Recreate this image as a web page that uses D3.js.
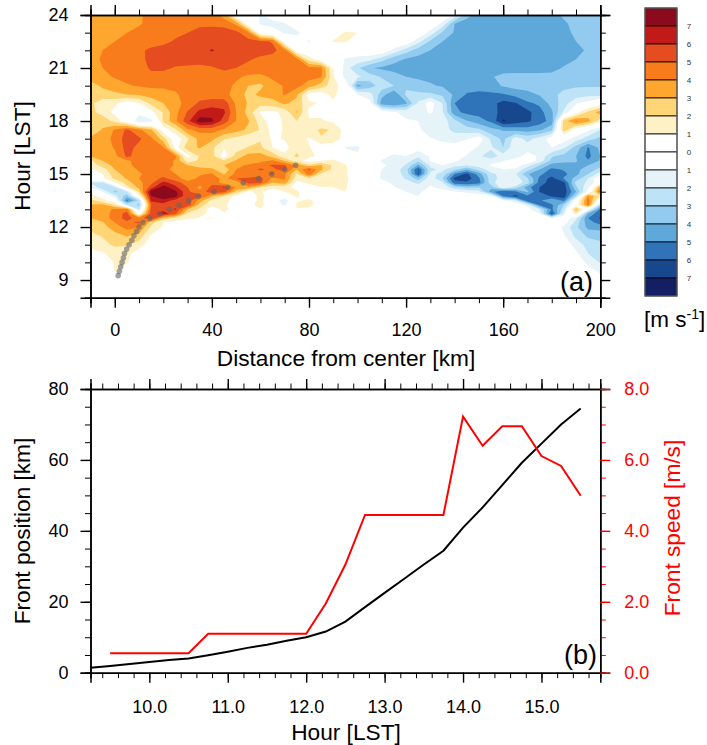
<!DOCTYPE html>
<html>
<head>
<meta charset="utf-8">
<script src="https://cdn.jsdelivr.net/npm/d3@7"></script>
<style>
html, body { margin: 0; padding: 0; background: #fff; }
svg { display: block; }
text { font-family: "Liberation Sans", Arial, sans-serif; fill: #000; }
</style>
</head>
<body>
<svg id="fig" width="707" height="745"></svg>
<script>
// grid of panel (a): wind anomaly at each hour (rows, top to bottom) and distance (columns)
const gridKm = [-10,-5,0,5,10,15,20,25,30,35,40,45,50,55,60,65,70,75,80,85,90,95,
  100,105,110,115,120,125,130,135,140,145,150,155,160,165,170,175,180,185,190,195,200];
const gridHours = [24,23.5,23,22.5,22,21.5,21,20.5,20,19.5,19,18.5,18,17.5,17,16.5,16,15.75,15.5,15.25,15,
  14.75,14.5,14.25,14,13.75,13.5,13.25,13,12.75,12.5,12.25,12,11.5,11,10.5,10,9.5,9,8];

// -10 to 95 km, zeros after the last value are left out
const nearRows = [
  [3.5,3.5,3.6,3.7,3.8,4.4,4.6,4.7,4.7,4.7,4.6,3.5,.3,0,-1.1,-.5],
  [3.5,3.5,3.6,3.7,3.9,4.3,4.5,4.6,4.7,4.8,4.8,4.7,3.8,.2,-1.1,-1.3,-1.1,-.3],
  [3.5,3.6,3.7,4.0,4.3,4.5,4.6,4.8,5.0,5.3,5.4,5.4,5.3,4.3,.2,-.5,-1.1,-1.2,-.5,0,.3,1.1],
  [3.5,3.8,4.0,4.3,4.5,4.6,4.8,5.1,5.3,5.4,5.4,5.4,5.4,5.3,5.3,4.9,.2,-.5,-1.1,-.2,1.1,1.1],
  [3.6,4.0,4.3,4.5,4.8,5.2,5.3,5.4,5.5,5.6,6.1,5.6,5.5,5.4,5.4,5.3,4.4,.3,0,0,0,-.2],
  [3.7,4.1,4.4,4.5,4.9,5.1,5.4,5.5,5.5,5.5,5.5,5.4,5.3,5.1,4.8,4.6,4.5,4.3,1.5,.3,0,-1.1],
  [3.7,4.0,4.3,4.5,4.7,5.1,5.2,4.9,4.8,4.7,4.9,5.2,5,4.7,4.6,4.6,4.5,4.5,4.3,4.2,.9,-1.5],
  [3.5,3.7,4.1,4.3,4.5,4.8,4.6,4.5,4.5,4.5,4.5,4.5,4.2,3.8,3.7,4.2,4.5,4.5,4.3,4.1,1.2,-1.5],
  [2.5,3.2,3.5,3.9,4.1,4.2,4.2,4.2,4.5,4.5,4.5,4.4,3.8,3.0,2.8,3.6,4.1,4.3,3.5,2.5,1.5,.3],
  [2.3,2.5,2.8,3.0,3.1,3.4,3.6,3.9,4.3,4.5,4.5,4.3,3.6,2.7,3.2,3.4,4.1,3.2,.5,.5,1.3,.2],
  [2.2,1.5,1.2,.4,.9,2.3,3.0,3.7,4.3,5.2,5.5,5.6,3.8,2.9,2.4,2.6,3.2,2.6,1.2,.9,.8,.3],
  [2.3,1.6,.7,-.3,-.5,.6,2.1,3.7,5.1,6.3,6.6,6.2,4,2.6,.9,.7,1.3,3.1,.8,.8,.4,0],
  [2.5,2.6,1.7,.3,-1.9,-1.5,2.2,3.8,5.7,7.5,7.2,5.5,4,3.1,1.5,.4,1.2,2,1.1,1.1,.8,.2],
  [2.2,3.1,4.1,5.2,4.2,3.2,.3,1.8,3.8,4.3,4.4,3.9,3.4,2.8,1.9,.6,1.1,1.6,1.5,2.2,1.9,.5],
  [3.2,3.5,4.3,5.5,5.2,4.2,2.5,.2,1.8,3.4,3.3,2.1,1.7,1.2,1.9,.8,1.1,1.4,.9,1.9,1.8,.4],
  [3.2,3.4,4.1,5.4,4.7,4.7,4.1,.5,2.6,3.1,2.2,1.1,1.4,2.1,2.2,1,.6,1.7,1.1,.3,.1,-1.1],
  [3,3.4,3.7,5.2,4.6,4.8,4.6,4.2,.6,2.1,2.4,.4,2.5,3.4,3.5,2.7,1.3,2.2,1.2,.8,.5,-.3],
  [1.8,3,3.4,3.8,4.4,4.6,4.5,3.9,1.4,2.2,2.2,2.2,3.1,3.0,3.6,4.2,2.9,1.4,.6,1,1.2,.4],
  [1.4,2.4,3.3,3.8,4.3,4.5,4.4,3.9,3,2.6,2.6,3,3.6,4.2,4.8,5.1,5.1,3.8,2.2,3.1,1.8,1.1],
  [.8,1.5,3,3.6,4.1,4.3,4.2,3.8,3.3,3.4,3.2,2.3,4,4.7,5.1,4.8,5.4,3,5.2,3.2,1.7,1.2],
  [.6,1,2.6,3.4,3.9,4.3,4.3,4.0,3.4,3.9,4.1,2.9,4.3,4.5,4.6,5.2,4.1,1.9,4.6,1.8,1.4,1.2],
  [.3,.7,2.3,3.1,4.0,4.4,5.3,4.4,3.6,4.2,4.6,3.6,5.0,5.1,5.3,3.8,4.2,1.4,2,1.8,1.2,1.3],
  [-2,-2.2,.8,2.5,3.7,4.7,6.3,5.6,4.3,4.4,4.7,3.5,3.3,5.2,5.3,3,3.5,.6,1.2,1.6,1.6,1.2],
  [-1,-2.8,-2.2,1.7,3.3,5.5,7.5,6.2,5,3.7,5.3,6.1,3.9,3.6,2,1.5,1.2,.8,.6,.9,1,1.1],
  [.5,-1,-3.3,-2.2,2.4,7.5,8,7.3,5.2,4.3,5.7,5.4,2.6,.8,1.3,-.3,1,1.1,.4,.4,.6,1],
  [1.5,.5,-1.6,-3.6,.5,7,8,7.4,5.1,5.4,3.2,2,.7,-.2,1.5,-.2,-.2,1.2,.3,0,.1,.3],
  [2.3,1.4,.3,-5.3,-2.8,6.3,6.6,5.6,5.6,3.5,1.7,1.4,.4,.1,1.4,-.2,-1.7,.8,1.3,.3],
  [3.1,3.3,2,-2.2,-3.2,5,5.6,5.8,5.8,2.5,1.2,1.4,-.1,.5,1.5,-.3,-1.2,1.2,1.4,.2],
  [3.5,3.5,4.2,4.6,-2.2,5.3,5.6,6.1,3,1.8,.5,1.3,.4,.3,.9,0,.1,.9,.6],
  [3.4,3.6,4.3,5.4,.5,5.6,6.6,5.2,1.8,1.4,.6,.9,.1,.1,0,0,0,-1.1],
  [3,3.5,4.4,5.4,4.4,6.1,2.6,1.7,1.2,.9,1.1,.2],
  [2.4,2.9,4,4.8,5.2,2.4,1,.6,.1],
  [2.3,2.6,3.5,4.4,4.1,1.8,.9,.4],
  [1.7,2.1,2.6,3.1,2.6,.9],
  [1.5,1.6,2.2,2.1,1.5,.3],
  [.3,.9,1.3,1.3,.4],
  [0,.2,1.1,1.1,.2],
  [0,0,1.05,.3],
  [],
  []
];

// 100 to 200 km, zeros before the first value are left out
const farRows = [
  [-1.2,-3.7,-4.4,-4.5,-4.5,-4.5,-4.5,-4.5,-4.2,-3.9,-3.6,-3.6,-3.6],
  [-1.3,-4.0,-4.4,-4.5,-4.5,-4.5,-4.5,-4.5,-4.5,-4.4,-4.1,-3.8,-3.6,-3.6],
  [1.0,0,0,0,0,0,-1.4,-3.2,-4.1,-4.5,-4.5,-4.5,-4.5,-4.5,-4.5,-4.5,-4.5,-4.3,-3.8,-3.6,-3.5],
  [.5,0,0,0,-.2,-1.6,-3.2,-4.0,-4.4,-4.5,-4.5,-4.5,-4.5,-4.5,-4.5,-4.5,-4.5,-4.5,-4.0,-3.6,-3.5],
  [-.3,0,0,-1.3,-2.5,-3.5,-4,-4.3,-4.5,-4.5,-4.5,-4.5,-4.5,-4.5,-4.5,-4.5,-4.5,-4.5,-4.4,-3.8,-3.5],
  [-1.3,-1.6,-2.6,-3.6,-4.1,-4.3,-4.5,-4.5,-4.5,-4.5,-4.5,-4.5,-4.5,-4.5,-4.5,-4.5,-4.5,-4.4,-4,-3.7,-3.5],
  [-2.8,-3.9,-4.2,-4.4,-4.5,-4.5,-4.5,-4.5,-4.5,-4.5,-4.5,-4.5,-4.5,-4.5,-4.5,-4.5,-4.4,-3.9,-3.6,-3.6,-3.5],
  [-1.8,-2.5,-3.1,-3.5,-4,-4.2,-4.2,-4.3,-4.3,-4.3,-4.3,-4.1,-3.7,-3.6,-3.6,-3.6,-3.6,-3.6,-3.6,-3.6,-3.6],
  [-4.3,-3.5,-2.5,-3,-3.2,-3.5,-3.9,-4.1,-4.3,-4.5,-4.5,-4.4,-3.9,-3.6,-3.6,-3.6,-3.5,-3.2,-3.1,-3.1,-3.1],
  [-1,-1.5,-3.6,-4.8,-2.8,-2.8,-2.8,-3.2,-4.2,-5.1,-5.3,-5.2,-5.1,-4.7,-4.3,-3.9,-3.2,-2.8,-2.6,-2.4,-2.4],
  [0,-.6,-4.6,-5,-4.2,-1.8,-.5,-2,-5,-5.6,-5.4,-5.6,-6.4,-6.1,-5.2,-4.8,-3.6,-2.5,-1.1,-.5,.5],
  [0,0,-.3,-.9,-1.3,-1.6,-.8,-1.9,-4.7,-5.3,-5.4,-5.3,-6.6,-6.6,-6.3,-5.4,-4.2,-1.8,.5,2.2,3.5],
  [0,0,0,-.5,-.9,-1,-2,-1.5,-2.7,-3.9,-4.6,-5.2,-7.1,-6.6,-6.2,-5.5,-4.6,2.5,4.2,3.4,1.5],
  [0,0,-.3,-.5,-.7,-.8,-1.6,-1.7,-2.2,-2.5,-2.8,-3.7,-4.1,-4.3,-4.5,-4.2,-3.3,2.7,.3,-.8,-2],
  [0,0,0,-.3,-.4,-.6,-.9,-1.3,-1.6,-1.1,-.3,-2.2,-3.3,-1.5,-2.3,-1.6,-.4,-.5,-1.5,-2.5,-3.3],
  [-1.2,-.1,0,-.1,-.4,-.5,-1,-.5,-.4,-.3,-1.2,-1.8,-3,-1.2,-1.6,-1.1,-1,-1.8,-3.4,-5.1,-3.7],
  [-.8,-.2,-.5,-1.3,-1,-1.8,-.9,-.2,0,-1.2,-1.8,-2.6,-1.5,-1.6,-.4,-1.2,-2.9,-3.4,-4,-5.3,-4],
  [-.5,0,-1.1,-1.4,-1.6,-2.6,-.9,-.6,-.8,-1.5,-1.3,-1.4,-1.1,-.2,-.1,-1.4,-3.3,-3.6,-3.9,-4.9,-3.9],
  [-.1,-.2,-.8,-1.3,-2.1,-4.2,-1.8,-1,-1.7,-1.8,-1.6,-.9,-.3,-.4,-1.6,-3,-4.4,-4.6,-4.2,-4,-3.3],
  [.1,-.4,-1,-1.4,-2.6,-6.1,-2.2,-1.8,-2.8,-4,-2.6,-1.5,-1,-1.2,-2.6,-4,-5.3,-4.9,-4.3,-3.5,-2.7],
  [-.2,-.3,-1.1,-1.7,-2.2,-6.1,-1.8,-2.2,-5,-6.3,-4.5,-2.2,-1.7,-1.8,-3.9,-4.8,-5.5,-5.3,-4.3,-3,-1.4],
  [0,-.3,-1.1,-1.5,-2.1,-3.5,-1.3,-3,-6.3,-6.5,-5.2,-2.4,-1.6,-1.4,-2.9,-5.2,-6.4,-4.9,-3.6,-2,.2],
  [0,-.2,-.6,-1.2,-1.6,-2.2,-1.1,-1.8,-5.6,-5.8,-5.4,-2.4,-1.2,-1.1,-2.6,-5.5,-6.5,-6.3,-2.6,-1.8,-.1],
  [.3,-.2,-.4,-.9,-1.5,-1.5,-.9,-1.3,-2.6,-3.2,-3.1,-3.6,-1.2,-2.4,-4.6,-6,-6.6,-6.6,-3.2,-1.2,3.6],
  [.1,-.3,-.2,-.5,-1,-1.2,-.5,-.6,-.9,-1.3,-1.6,-4.6,-6,-5.2,-3.8,-6.1,-6.7,-6.6,-4,-.5,4.8],
  [0,0,-.2,-.4,-.9,-1,-.4,-.2,-.3,0,-.3,-.6,-5.2,-6.3,-5.2,-5,-6.2,-6.5,-2.8,4,1.8],
  [0,0,0,-.2,-.8,-.7,-.2,0,0,0,0,-.1,-.8,-1.8,-6,-5.2,-4,-5.3,-.1,4.6,-.3],
  [0,0,0,-.1,-.3,-.3,0,0,0,0,0,0,0,-.2,-1.2,-5.2,-5.2,-3,.4,4.4,-2.9],
  [-.6,-2,-5.2,-2.4,3.2,-.5,-5.2],
  [-.1,-.3,-1,-6.3,-1.4,1.6,-4.2,-5.8],
  [-.1,-.3,-1,-.3,-1.7,-5,-6.1],
  [-.1,-.4,-.4,-2.4,-4.6,-5.4],
  [-.2,-1.2,-2.8,-4.3,-4.4],
  [-.1,-.9,-2.3,-3.2,-3.4],
  [-.3,-1.4,-2.4,-2.7],
  [-.8,-2,-2.3],
  [-.2,-1.3,-2.1],
  [-.5,-1.2],
  [-.6],
  []
];

// colour bands, strongest positive to strongest negative
const bandColors = ["#8c0a1e","#c21a18","#e54c1f","#f97c1c","#fea62d","#ffd576","#fff1c6","#ffffff",
  "#ffffff","#e6f3f9","#bde3f6","#93cbf0","#5ea9da","#2f74b9","#17478c","#141f63"];
const bandLabels = ["7","6","5","4","3","2","1","0","1","2","3","4","5","6","7"];
const levels = [1,2,3,4,5,6,7];

// front track, shared by both panels
const frontHours = [9.25,9.5,9.75,10,10.25,10.5,10.75,11,11.25,11.5,11.75,12,12.25,12.5,12.75,13,13.25,13.5,13.75,14,14.25,14.5,14.75,15,15.25,15.5];
const frontKm = [1.4,1.9,2.45,3,3.55,4,4.9,5.9,7,7.9,9,10,11.6,14.4,18.5,22.5,26.5,30.5,34.4,40.9,46.6,52.9,59.2,64.6,70,74.5];
const speedHours = frontHours.slice(1);
const speedMs = [.55,.55,.55,.55,.55,1.1,1.1,1.1,1.1,1.1,1.1,1.95,3.05,4.45,4.45,4.45,4.45,4.45,7.22,6.4,6.95,6.95,6.11,5.83,4.99];

const svg = d3.select("#fig");
const left = 90.5, right = 600.3;

// tick helper: one major and one minor axis on a side
function ticks(gen, scale, major, minor, pos, color, labels) {
  let g = svg.append("g").attr("transform", pos);
  g.call(gen(scale).tickValues(minor).tickSize(5.5).tickFormat(""));
  g.selectAll(".tick line").attr("stroke", color).attr("stroke-width", 1);
  g.select("path").attr("stroke", "#000").attr("stroke-width", 1.5);
  let h = svg.append("g").attr("transform", pos);
  h.call(gen(scale).tickValues(major).tickSize(10).tickPadding(12).tickFormat(labels || ""));
  h.selectAll(".tick line").attr("stroke", color).attr("stroke-width", 1.4);
  h.select("path").attr("stroke", "#000").attr("stroke-width", 1.5);
  h.selectAll("text").style("font-family", '"Liberation Sans", Arial, sans-serif').style("font-size", "18px").style("fill", color);
  return h;
}

// ---- panel a
const xa = d3.scaleLinear().domain([-10, 200]).range([left, right]);
const ya = d3.scaleLinear().domain([8, 24]).range([297.7, 15]);

const nx = gridKm.length, ny = gridHours.length;
const field = [];
gridHours.forEach((h, i) => {
  const near = nearRows[i].concat(Array(22 - nearRows[i].length).fill(0));
  const far = Array(21 - farRows[i].length).fill(0).concat(farRows[i]);
  near.concat(far).forEach(v => field.push(v));
});

const kmOf = d3.scaleLinear().domain(d3.range(nx)).range(gridKm).clamp(true);
const hourOf = d3.scaleLinear().domain(d3.range(ny)).range(gridHours).clamp(true);
const path = d3.geoPath(d3.geoTransform({
  point(cx, cy) { this.stream.point(xa(kmOf(cx - 0.5)), ya(hourOf(cy - 0.5))); }
}));

const contours = d3.contours().size([nx, ny]).thresholds(levels);
const fill = svg.append("g");
// warm bands, then cold bands on the negated field
contours(field).forEach((c, i) => {
  fill.append("path").attr("d", path(c)).attr("fill", bandColors[6 - i]);
});
contours(field.map(v => -v)).forEach((c, i) => {
  fill.append("path").attr("d", path(c)).attr("fill", bandColors[9 + i]);
});

svg.append("g").selectAll("circle").data(frontHours).join("circle")
  .attr("cx", (d, i) => xa(frontKm[i]))
  .attr("cy", d => ya(d))
  .attr("r", 2.8)
  .attr("fill", "#666")
  .attr("opacity", 0.6);

const xMajorA = [0,40,80,120,160,200], xMinorA = d3.range(-10, 201, 10);
const yMajorA = [9,12,15,18,21,24], yMinorA = d3.range(8, 25, 1);
ticks(d3.axisBottom, xa, xMajorA, xMinorA, "translate(0,297.7)", "#000", d3.format("d"))
  .selectAll("text").attr("dy", "0.9em");
ticks(d3.axisTop, xa, xMajorA, xMinorA, "translate(0,15)", "#000");
ticks(d3.axisLeft, ya, yMajorA, yMinorA, `translate(${left},0)`, "#000", d3.format("d"));
ticks(d3.axisRight, ya, yMajorA, yMinorA, `translate(${right},0)`, "#000");

svg.append("text").attr("x", 346).attr("y", 366).attr("text-anchor", "middle").style("font-size", "22.7px").text("Distance from center [km]");
svg.append("text").attr("transform", "translate(30,156) rotate(-90)").attr("text-anchor", "middle").style("font-size", "22.7px").text("Hour [LST]");
svg.append("text").attr("x", 593).attr("y", 291).attr("text-anchor", "end").style("font-size", "27px").text("(a)");

// ---- colour bar
const barY = d3.scaleLinear().domain([0, bandColors.length]).range([8, 296]);
svg.append("g").selectAll("rect").data(bandColors).join("rect")
  .attr("x", 645).attr("width", 32)
  .attr("y", (d, i) => barY(i)).attr("height", 18)
  .attr("fill", d => d).attr("stroke", "#000").attr("stroke-width", 0.8);
svg.append("rect").attr("x", 645).attr("y", 8).attr("width", 32).attr("height", 288)
  .attr("fill", "none").attr("stroke", "#666").attr("stroke-width", 1.2);
svg.append("g").selectAll("text").data(bandLabels).join("text")
  .attr("x", 689).attr("y", (d, i) => barY(i + 1) + 3)
  .attr("text-anchor", "middle").style("font-size", "8px").style("fill", "#333").text(d => d);
const unit = svg.append("text").attr("x", 644).attr("y", 327).style("font-size", "22.5px");
unit.append("tspan").text("[m s");
unit.append("tspan").attr("dy", -8).style("font-size", "14px").text("-1");
unit.append("tspan").attr("dy", 8).text("]");

// ---- panel b
const xb = d3.scaleLinear().domain([9.25, 15.75]).range([left, right]);
const yb = d3.scaleLinear().domain([0, 80]).range([672.7, 389]);
const ys = d3.scaleLinear().domain([0, 8]).range([672.7, 389]);

const xMajorB = [10,11,12,13,14,15], xMinorB = d3.range(9.4, 15.75, 0.2).map(v => +v.toFixed(1));
const yMajorB = [0,20,40,60,80], yMinorB = d3.range(0, 81, 5);
const sMajor = [0,2,4,6,8], sMinor = d3.range(0, 8.01, 0.5);

svg.append("path").datum(frontHours)
  .attr("fill", "none").attr("stroke", "#000").attr("stroke-width", 2)
  .attr("d", d3.line().x(d => xb(d)).y((d, i) => yb(frontKm[i])));
svg.append("path").datum(speedHours)
  .attr("fill", "none").attr("stroke", "#f00").attr("stroke-width", 2)
  .attr("d", d3.line().x(d => xb(d)).y((d, i) => ys(speedMs[i])));

ticks(d3.axisBottom, xb, xMajorB, xMinorB, "translate(0,672.7)", "#000", d3.format(".1f"))
  .selectAll("text").attr("dy", "1.0em");
ticks(d3.axisTop, xb, xMajorB, xMinorB, "translate(0,389)", "#000");
ticks(d3.axisLeft, yb, yMajorB, yMinorB, `translate(${left},0)`, "#000", d3.format("d"));
ticks(d3.axisRight, ys, sMajor, sMinor, `translate(${right},0)`, "#f00", d3.format(".1f"))
  .selectAll("text").attr("x", 24);

svg.append("text").attr("x", 346).attr("y", 740).attr("text-anchor", "middle").style("font-size", "22.7px").text("Hour [LST]");
svg.append("text").attr("transform", "translate(30,531) rotate(-90)").attr("text-anchor", "middle").style("font-size", "22.7px").text("Front position [km]");
svg.append("text").attr("transform", "translate(680,528) rotate(-90)").attr("text-anchor", "middle").style("font-size", "22.7px").style("fill", "#f00").text("Front speed [m/s]");
svg.append("text").attr("x", 597).attr("y", 664).attr("text-anchor", "end").style("font-size", "27px").text("(b)");
</script>
</body>
</html>
